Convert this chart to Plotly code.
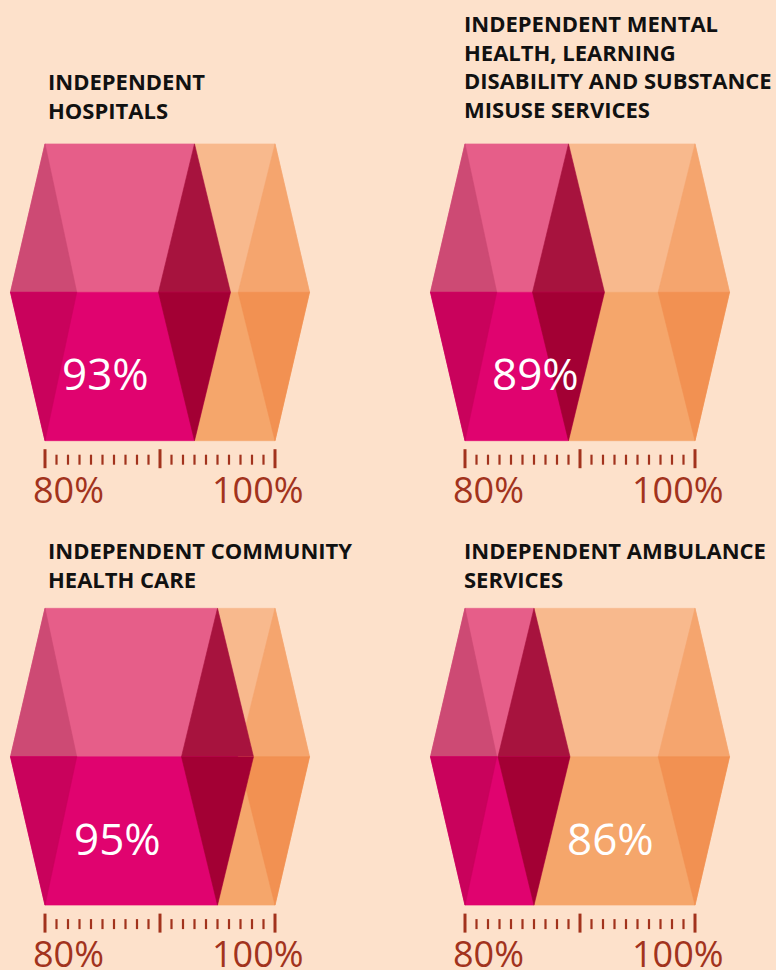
import plotly.graph_objects as go

# Sector scores on an 80–100% gem gauge
titles = [
    "INDEPENDENT<br>HOSPITALS",
    "INDEPENDENT MENTAL<br>HEALTH, LEARNING<br>DISABILITY AND SUBSTANCE<br>MISUSE SERVICES",
    "INDEPENDENT COMMUNITY<br>HEALTH CARE",
    "INDEPENDENT AMBULANCE<br>SERVICES",
]
values = [93, 89, 95, 86]
scale_min, scale_max = 80, 100
major_ticks = [80, 90, 100]
minor_ticks = [t for t in range(80, 101) if t not in major_ticks]
scale_labels = ["80%", "100%"]

# ---- page geometry (pixels) ----
W, H = 776, 970
PX_PER_PCT = 11.5
COL_ORIGIN = [45, 465]          # x pixel of the 80% mark in each column
COL_BAND = [(0, 388), (388, 776)]
ROW_MID = [292.3, 756.7]        # y pixel of the gem's waist in each row
ROW_BAND = [(125, 520), (590, 970)]
HALF_H = 148.4                  # gem half height in pixels

# gem facet offsets, in percentage points
TIP = 3.0          # outer point beyond the 80/100 edges
LEFT_FACET = 2.76
RIGHT_FACET = 3.2
CUT = 3.13         # half width of the dark cut around the value

# where the value text sits (percent units, gem units)
LABEL_X = [85.3, 86.1, 86.3, 92.65]
LABEL_Y = -0.545

# ---- colours ----
BG = "#FDE1CB"
AXIS = "#A2331D"
PINK_TOP = "#E65E89"
PINK_TOP_FACET = "#CD4A74"
PINK_BOT = "#E0036F"
PINK_BOT_FACET = "#C9025C"
CUT_TOP = "#A7133E"
CUT_BOT = "#A30034"
ORANGE_TOP = "#F8B98D"
ORANGE_TOP_FACET = "#F5A56E"
ORANGE_BOT = "#F5A66B"
ORANGE_BOT_FACET = "#F29152"
TITLE = "#111111"

fig = go.Figure()


def polygon(pts, color, xa, ya):
    xs = [p[0] for p in pts] + [pts[0][0]]
    ys = [p[1] for p in pts] + [pts[0][1]]
    fig.add_trace(go.Scatter(
        x=xs, y=ys, mode="lines", fill="toself", fillcolor=color,
        line=dict(color=color, width=0.6), hoverinfo="skip",
        showlegend=False, xaxis=xa, yaxis=ya))


layout_axes = {}
annotations = []

for i, (title, v) in enumerate(zip(titles, values)):
    col, row = i % 2, i // 2
    n = "" if i == 0 else str(i + 1)
    xa, ya = "x" + n, "y" + n

    # axis ranges so that 1 pct = PX_PER_PCT px and the gem spans y in [-1, 1]
    bl, br = COL_BAND[col]
    bt, bb = ROW_BAND[row]
    to_pct = lambda px: scale_min + (px - COL_ORIGIN[col]) / PX_PER_PCT
    to_gem = lambda py: (ROW_MID[row] - py) / HALF_H
    layout_axes["xaxis" + n] = dict(
        domain=[bl / W, br / W], range=[to_pct(bl), to_pct(br)],
        visible=False, anchor=ya, fixedrange=True)
    layout_axes["yaxis" + n] = dict(
        domain=[1 - bb / H, 1 - bt / H], range=[to_gem(bb), to_gem(bt)],
        visible=False, anchor=xa, fixedrange=True)

    lo, hi = scale_min, scale_max
    # upper half
    polygon([(lo, 1), (v, 1), (v + CUT, 0), (lo - TIP, 0)], PINK_TOP, xa, ya)
    polygon([(v, 1), (hi, 1), (hi + TIP, 0), (v + CUT, 0)], ORANGE_TOP, xa, ya)
    polygon([(lo, 1), (lo - TIP, 0), (lo + LEFT_FACET, 0)], PINK_TOP_FACET, xa, ya)
    polygon([(hi, 1), (hi + TIP, 0), (hi - RIGHT_FACET, 0)], ORANGE_TOP_FACET, xa, ya)
    polygon([(v, 1), (v - CUT, 0), (v + CUT, 0)], CUT_TOP, xa, ya)
    # lower half
    polygon([(lo - TIP, 0), (v + CUT, 0), (v, -1), (lo, -1)], PINK_BOT, xa, ya)
    polygon([(v + CUT, 0), (hi + TIP, 0), (hi, -1), (v, -1)], ORANGE_BOT, xa, ya)
    polygon([(lo - TIP, 0), (lo + LEFT_FACET, 0), (lo, -1)], PINK_BOT_FACET, xa, ya)
    polygon([(hi + TIP, 0), (hi - RIGHT_FACET, 0), (hi, -1)], ORANGE_BOT_FACET, xa, ya)
    polygon([(v - CUT, 0), (v + CUT, 0), (v, -1)], CUT_BOT, xa, ya)

    # scale ticks under the gem
    for ticks, (top_off, bot_off), width in (
            (major_ticks, (8.5, 27.5), 3),
            (minor_ticks, (14, 24), 2.2)):
        tx, ty = [], []
        for t in ticks:
            tx += [t, t, None]
            ty += [-1 - top_off / HALF_H, -1 - bot_off / HALF_H, None]
        fig.add_trace(go.Scatter(
            x=tx, y=ty, mode="lines", line=dict(color=AXIS, width=width),
            hoverinfo="skip", showlegend=False, xaxis=xa, yaxis=ya))

    # scale end labels
    for t, txt, shift in ((scale_min, scale_labels[0], 23),
                          (scale_max, scale_labels[1], -17.5)):
        annotations.append(dict(
            x=t, y=-1 - 48.3 / HALF_H, xref=xa, yref=ya, text=txt,
            xshift=shift, showarrow=False, xanchor="center", yanchor="middle",
            font=dict(family="Open Sans", size=36, color=AXIS)))

    # value text inside the gem
    annotations.append(dict(
        x=LABEL_X[i], y=LABEL_Y, xref=xa, yref=ya, text=f"{v}%",
        showarrow=False, xanchor="center", yanchor="middle",
        font=dict(family="Open Sans", size=44, color="white")))

# panel titles
TITLE_LEFT = [46, 462, 46, 462]
TITLE_TOP = [64.5, 6.5, 533, 533]
for i, title in enumerate(titles):
    annotations.append(dict(
        x=TITLE_LEFT[i] / W, y=1 - TITLE_TOP[i] / H, xref="paper", yref="paper",
        text=title, showarrow=False, xanchor="left", yanchor="top", align="left",
        font=dict(family="Open Sans", size=22, color=TITLE, weight=700)))

fig.update_layout(
    width=W, height=H,
    margin=dict(l=0, r=0, t=0, b=0),
    paper_bgcolor=BG, plot_bgcolor=BG,
    annotations=annotations,
    **layout_axes,
)

fig.write_html("out.html", config={"displayModeBar": False})
